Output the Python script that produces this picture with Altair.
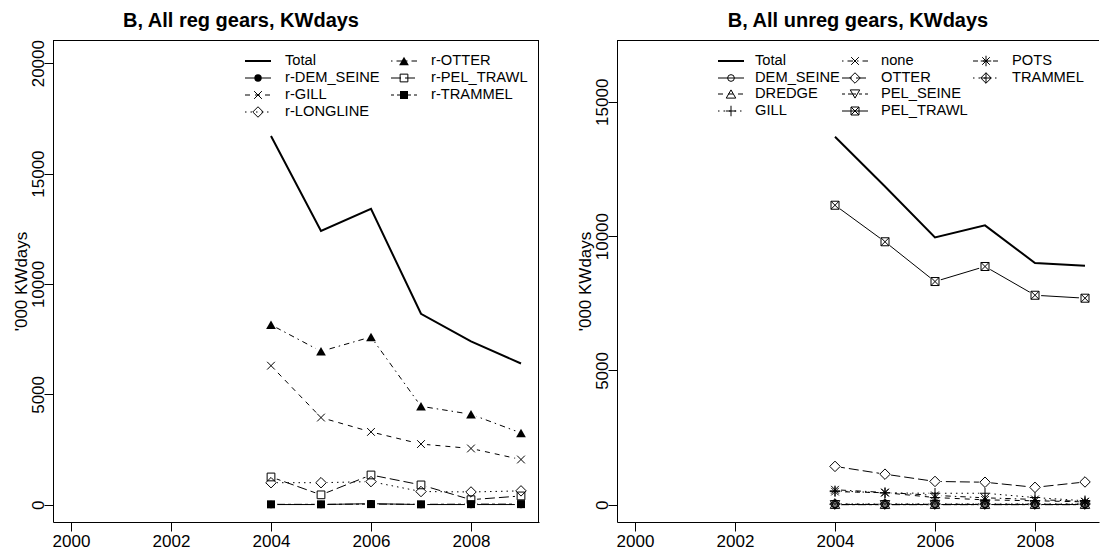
import altair as alt
import pandas as pd

FONT = "Liberation Sans"

years = [2004, 2005, 2006, 2007, 2008, 2009]

# Regulated gears, '000 KWdays
reg_total = [16700, 12400, 13400, 8650, 7400, 6400]
reg_dem_seine = [10, 10, 50, 10, 10, 10]
reg_gill = [6300, 3950, 3300, 2750, 2550, 2050]
reg_longline = [1000, 1000, 1050, 600, 580, 630]
reg_otter = [8150, 6950, 7600, 4460, 4100, 3250]
reg_pel_trawl = [1260, 450, 1350, 900, 230, 400]
reg_trammel = [20, 20, 30, 20, 30, 30]

# Unregulated gears, '000 KWdays
unreg_total = [13700, 11850, 9950, 10400, 9000, 8900]
unreg_dem_seine = [10, 10, 10, 10, 10, 10]
unreg_dredge = [20, 20, 20, 20, 20, 20]
unreg_gill = [520, 440, 430, 430, 270, 150]
unreg_none = [560, 460, 350, 260, 200, 120]
unreg_otter = [1430, 1140, 870, 840, 650, 850]
unreg_pel_seine = [5, 5, 5, 5, 5, 5]
unreg_pel_trawl = [11150, 9790, 8310, 8870, 7800, 7690]
unreg_pots = [490, 450, 270, 185, 150, 110]
unreg_trammel = [30, 30, 30, 30, 30, 30]

reg_series = [
    ("Total", reg_total),
    ("r-DEM_SEINE", reg_dem_seine),
    ("r-GILL", reg_gill),
    ("r-LONGLINE", reg_longline),
    ("r-OTTER", reg_otter),
    ("r-PEL_TRAWL", reg_pel_trawl),
    ("r-TRAMMEL", reg_trammel),
]
unreg_series = [
    ("Total", unreg_total),
    ("DEM_SEINE", unreg_dem_seine),
    ("DREDGE", unreg_dredge),
    ("GILL", unreg_gill),
    ("none", unreg_none),
    ("OTTER", unreg_otter),
    ("PEL_SEINE", unreg_pel_seine),
    ("PEL_TRAWL", unreg_pel_trawl),
    ("POTS", unreg_pots),
    ("TRAMMEL", unreg_trammel),
]

# line types (R lty 1..6)
DASH = {
    "solid": None,
    "dashed": [5, 5],
    "dotted": [1.5, 4],
    "dotdash": [1.5, 4, 5.5, 4],
    "longdash": [10, 4],
    "twodash": [3, 3, 8, 3],
}

# plotting symbols: (shape, filled, size)
SYM = {
    "dot": ("circle", True, 55),
    "circle": ("circle", False, 45),
    "x": ("M-1,-1L1,1M-1,1L1,-1", False, 60),
    "diamond": ("diamond", False, 110),
    "tri": ("triangle-up", True, 95),
    "tri_open": ("triangle-up", False, 90),
    "tri_down": ("triangle-down", False, 90),
    "square_open": ("square", False, 60),
    "square": ("square", True, 64),
    "plus": ("M-1,0L1,0M0,-1L0,1", False, 110),
    "square_x": ("M-1,-1L1,-1L1,1L-1,1Z M-1,-1L1,1 M-1,1L1,-1", False, 64),
    "star": ("M-1,0L1,0M0,-1L0,1M-0.72,-0.72L0.72,0.72M-0.72,0.72L0.72,-0.72", False, 110),
    "diamond_plus": ("M0,-1L1,0L0,1L-1,0Z M-1,0L1,0 M0,-1L0,1", False, 110),
}

STYLE = {
    "Total": ("solid", None, 2),
    "r-DEM_SEINE": ("solid", "dot", 1),
    "r-GILL": ("dashed", "x", 1),
    "r-LONGLINE": ("dotted", "diamond", 1),
    "r-OTTER": ("dotdash", "tri", 1),
    "r-PEL_TRAWL": ("longdash", "square_open", 1),
    "r-TRAMMEL": ("twodash", "square", 1),
    "DEM_SEINE": ("solid", "circle", 1),
    "DREDGE": ("dashed", "tri_open", 1),
    "GILL": ("dotted", "plus", 1),
    "none": ("dotdash", "x", 1),
    "OTTER": ("longdash", "diamond", 1),
    "PEL_SEINE": ("twodash", "tri_down", 1),
    "PEL_TRAWL": ("solid", "square_x", 1),
    "POTS": ("dashed", "star", 1),
    "TRAMMEL": ("dotted", "diamond_plus", 1),
}

ONE = pd.DataFrame({"k": [0]})


def point_mark(sym):
    shape, filled, size = SYM[sym]
    return dict(shape=shape, filled=filled, size=size, color="black",
                strokeWidth=1, opacity=1)


def legend_layers(entries, col_x, col_tx, row_y):
    layers = []
    for col, names in enumerate(entries):
        for row, name in enumerate(names):
            dash, sym, lw = STYLE[name]
            cx, tx, y = col_x[col], col_tx[col], row_y[row]
            rule_kw = dict(color="black", strokeWidth=lw)
            if DASH[dash]:
                rule_kw["strokeDash"] = DASH[dash]
            layers.append(alt.Chart(ONE).mark_rule(**rule_kw).encode(
                x=alt.value(cx - 13), x2=alt.value(cx + 13), y=alt.value(y)))
            if sym:
                layers.append(alt.Chart(ONE).mark_point(**point_mark(sym)).encode(
                    x=alt.value(cx), y=alt.value(y)))
            layers.append(alt.Chart(ONE).mark_text(
                text=name, align="left", baseline="middle", fontSize=14.7,
                font=FONT, color="black").encode(x=alt.value(tx), y=alt.value(y)))
    return layers


def panel(title, title_x, series, xdomain, ydomain, yticks, width, height,
          legend, col_x, col_tx, row_y, right_frame):
    rows = [{"gear": n, "year": yr, "kw": v}
            for n, vals in series for yr, v in zip(years, vals)]
    base = alt.Chart(pd.DataFrame(rows))

    xaxis = alt.Axis(values=[2000, 2002, 2004, 2006, 2008], format="d",
                     title=None, grid=False, tickSize=9, labelPadding=2,
                     labelFontSize=17, labelFont=FONT, labelColor="black",
                     tickColor="black", domainColor="black", labelBaseline="top")
    yaxis = alt.Axis(values=yticks, format="d", title="'000 KWdays", grid=False,
                     tickSize=9, labelPadding=1, labelFontSize=17, labelFont=FONT,
                     labelColor="black", labelAngle=270, labelAlign="center",
                     labelBaseline="alphabetic", tickColor="black",
                     domainColor="black", titleFont=FONT, titleFontSize=17,
                     titleFontWeight="normal", titleColor="black", titleAngle=270,
                     titleAlign="center", titleBaseline="alphabetic",
                     titleX=-27, titleY=height / 2)
    X = alt.X("year:Q", scale=alt.Scale(domain=xdomain, nice=False, zero=False), axis=xaxis)
    Y = alt.Y("kw:Q", scale=alt.Scale(domain=ydomain, nice=False, zero=False), axis=yaxis)

    lines, halos, points = [], [], []
    for name, _ in series:
        dash, sym, lw = STYLE[name]
        sub = base.transform_filter(alt.datum.gear == name)
        kw = dict(color="black", strokeWidth=lw)
        if DASH[dash]:
            kw["strokeDash"] = DASH[dash]
        lines.append(sub.mark_line(**kw).encode(x=X, y=Y))
        if sym:
            halos.append(sub.mark_point(shape="circle", filled=True, color="white",
                                        size=150, opacity=1, strokeWidth=0).encode(x=X, y=Y))
            points.append(sub.mark_point(**point_mark(sym)).encode(x=X, y=Y))

    frame = [alt.Chart(ONE).mark_rule(color="black", strokeWidth=1).encode(
        x=alt.value(0), x2=alt.value(width), y=alt.value(0.5))]
    if right_frame:
        frame.append(alt.Chart(ONE).mark_rule(color="black", strokeWidth=1).encode(
            x=alt.value(width - 0.5), y=alt.value(0), y2=alt.value(height)))

    heading = alt.Chart(ONE).mark_text(
        text=title, fontSize=20, fontWeight="bold", font=FONT, color="black",
        align="center", baseline="alphabetic",
    ).encode(x=alt.value(title_x), y=alt.value(-13))

    layers = (lines + halos + points + frame
              + legend_layers(legend, col_x, col_tx, row_y) + [heading])
    return alt.layer(*layers).properties(width=width, height=height)


left = panel(
    "B, All reg gears, KWdays", 188, reg_series,
    [1999.64, 2009.36], [-780, 21050], [0, 5000, 10000, 15000, 20000], 486, 482,
    [["Total", "r-DEM_SEINE", "r-GILL", "r-LONGLINE"],
     ["r-OTTER", "r-PEL_TRAWL", "r-TRAMMEL"]],
    [205, 351], [232, 378], [21, 38, 55, 72], True,
)
right = panel(
    "B, All unreg gears, KWdays", 241, unreg_series,
    [1999.64, 2009.28], [-640, 17300], [0, 5000, 10000, 15000], 482, 482,
    [["Total", "DEM_SEINE", "DREDGE", "GILL"],
     ["none", "OTTER", "PEL_SEINE", "PEL_TRAWL"],
     ["POTS", "TRAMMEL"]],
    [114, 238, 369], [138, 264, 395], [21, 38, 54, 71], False,
)

chart = alt.hconcat(
    left, right, spacing=78, bounds="flush",
    padding={"left": 12, "top": 11, "right": 0, "bottom": 0},
).configure(font=FONT, background="white").configure_view(stroke=None)

chart.save("out.html", embed_options={"renderer": "svg", "actions": False})
